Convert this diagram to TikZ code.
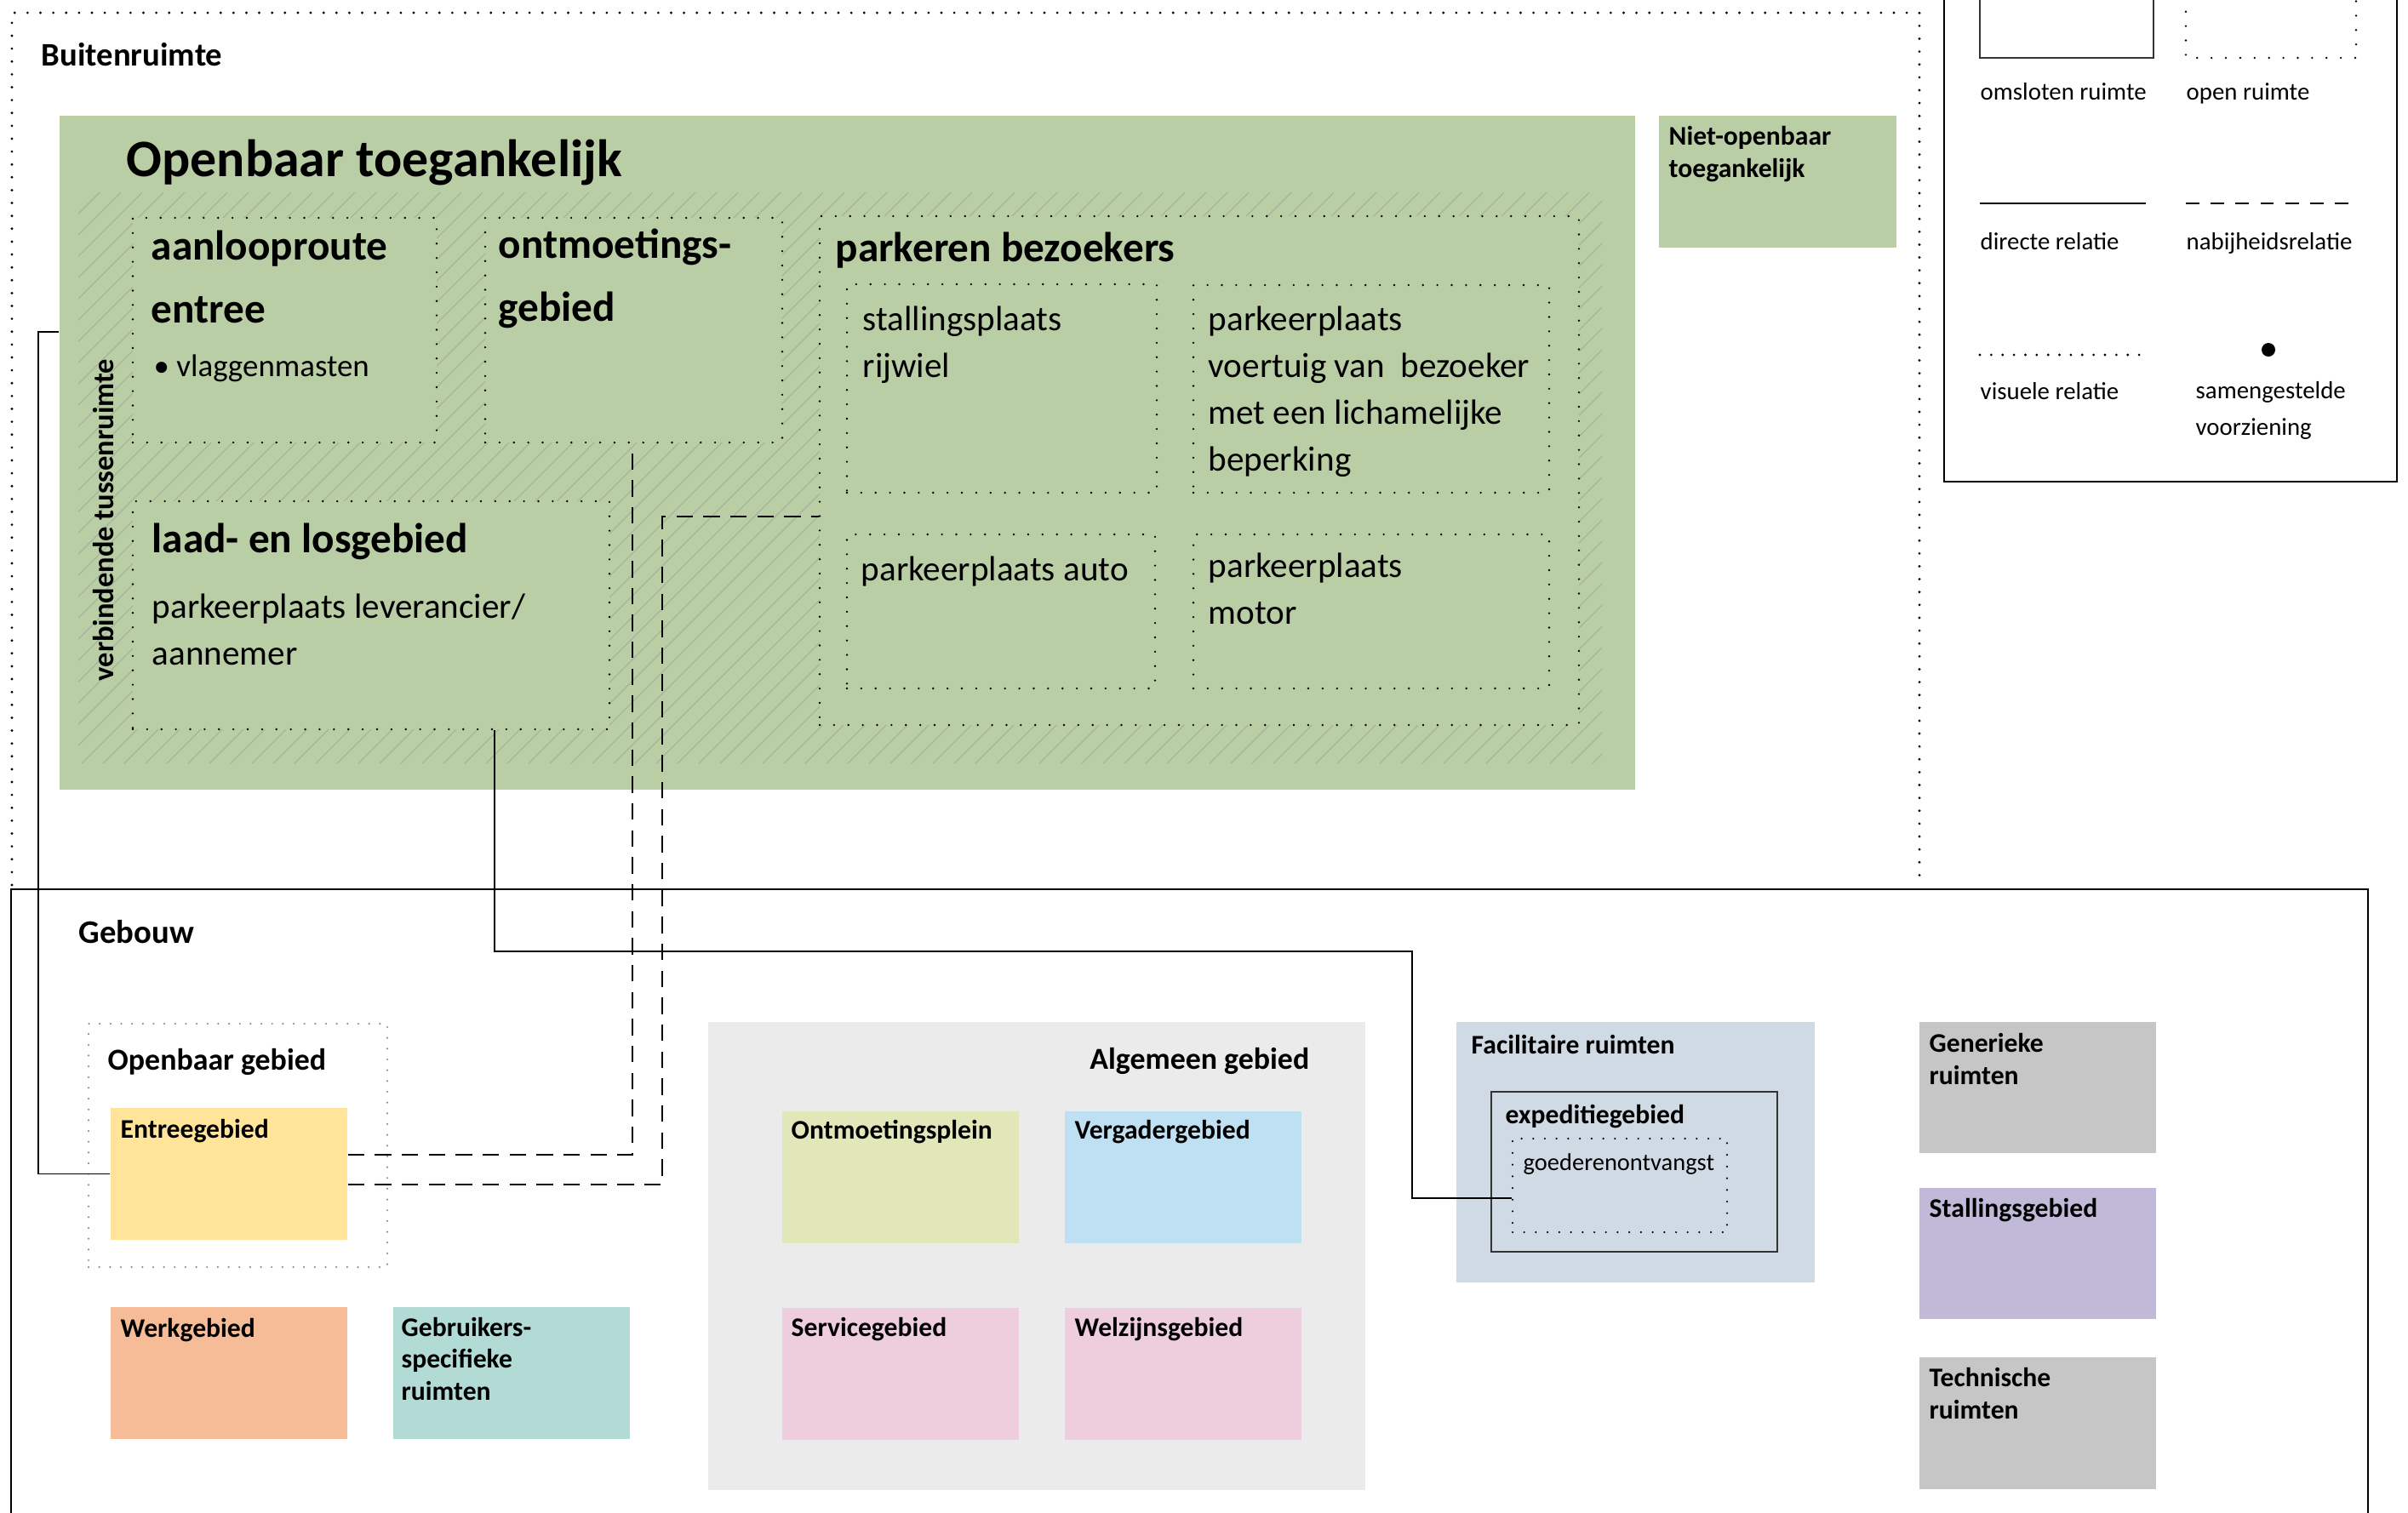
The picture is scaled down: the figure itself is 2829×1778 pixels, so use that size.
\documentclass[tikz,border=0pt]{standalone}
\usepackage{fontspec}
\setmainfont{Carlito}
\usetikzlibrary{fit,positioning}

\definecolor{groen}{RGB}{186,206,166}
\definecolor{arcering}{RGB}{163,177,152}
\definecolor{geel}{RGB}{255,228,153}
\definecolor{oranje}{RGB}{245,188,151}
\definecolor{mint}{RGB}{178,219,213}
\definecolor{lichtgrijs}{RGB}{235,235,235}
\definecolor{olijf}{RGB}{226,231,186}
\definecolor{hemel}{RGB}{191,223,242}
\definecolor{roze}{RGB}{238,206,220}
\definecolor{grijsblauw}{RGB}{208,218,228}
\definecolor{grijs}{RGB}{198,198,198}
\definecolor{paars}{RGB}{193,185,216}
\definecolor{stipgrijs}{RGB}{140,140,140}

\tikzset{
  vak/.style={inner sep=0pt, draw=none},
  openvak/.style={inner sep=0pt, draw, line width=0.75pt, line cap=round,
    dash pattern=on 0pt off 4.8pt},
  omsloten/.style={inner sep=0pt, draw=black!80, line width=0.4pt},
  rand/.style={line width=0.9pt, line cap=round, dash pattern=on 0pt off 4.3pt},
  directe/.style={line width=0.45pt},
  nabij/.style={line width=0.65pt, dash pattern=on 5.5pt off 3.5pt},
  arceerlijn/.style={draw=arcering, line width=0.3pt},
  txt/.style={inner sep=0pt, anchor=base west, align=left},
  kop/.style={txt, font=\bfseries\fontsize{9}{10.6}\selectfont},
  groot/.style={txt, font=\bfseries\fontsize{11}{13}\selectfont},
  middel/.style={txt, font=\bfseries\fontsize{10.2}{12}\selectfont},
  zwaar/.style={txt, font=\bfseries\fontsize{14}{20.8}\selectfont},
  licht/.style={txt, font=\fontsize{11.7}{15.6}\selectfont},
  klein/.style={txt, font=\fontsize{8.2}{12}\selectfont},
}

\begin{document}
\begin{tikzpicture}[x=0.01cm, y=-0.01cm]
  \useasboundingbox (0,0) rectangle (2829,1778);
  \clip (0,0) rectangle (2829,1778);

  % buitenruimte (base anchor = last line of a node)
  \draw[rand] (14,1040) -- (14,15) -- (2255,15) -- (2255,1040);
  \node[groot] (t-buiten) at (48,77) {Buitenruimte};

  \node[vak, fill=groen, fit={(70,136) (1921,928)}] (openbaar) {};
  \node[txt, font=\bfseries\fontsize{17.6}{20}\selectfont] (t-openbaar) at (148,207) {Openbaar toegankelijk};

  \begin{scope}
    \clip (92,226) rectangle (1882,897);
    \foreach \i in {0,...,100}
      \draw[arceerlijn] ({25*\i-579},897) -- ++(671,-671);
  \end{scope}

  \node[txt, rotate=90, anchor=center, font=\bfseries\fontsize{9.8}{12}\selectfont] (t-tussen) at (122,611) {verbindende tussenruimte};

  \node[openvak, fill=groen, fit={(156,256) (513,520)}] (aanl) {};
  \node[openvak, fill=groen, fit={(570,256) (919,520)}] (ontm) {};
  \node[openvak, fill=groen, fit={(156,589) (716,857)}] (laad) {};
  \node[openvak, fill=groen, fit={(963,254) (1855,852)}] (park) {};
  \node[openvak, fill=groen, fit={(995,334) (1359,579)}] (stal) {};
  \node[openvak, fill=groen, fit={(1402,335) (1820,579)}] (voer) {};
  \node[openvak, fill=groen, fit={(995,628) (1357,809)}] (auto) {};
  \node[openvak, fill=groen, fit={(1402,628) (1820,809)}] (moto) {};

  \node[zwaar] (t-aanl) at (177,379) {aanlooproute\\entree};
  \node[txt, font=\fontsize{10.5}{13}\selectfont] (t-vlag) at (180,442) {• vlaggenmasten};
  \node[zwaar] (t-ontm) at (585,377) {ontmoetings-\\gebied};
  \node[zwaar] (t-laad) at (178,649) {laad- en losgebied};
  \node[licht] (t-lever) at (178,781) {parkeerplaats leverancier/\\aannemer};
  \node[zwaar] (t-park) at (981,307) {parkeren bezoekers};
  \node[licht] (t-stal) at (1013,443) {stallingsplaats\\rijwiel};
  \node[licht] (t-voer) at (1419,553) {parkeerplaats\\voertuig van\ \ bezoeker\\met een lichamelijke\\beperking};
  \node[licht] (t-auto) at (1011,682) {parkeerplaats auto};
  \node[licht] (t-moto) at (1419,733) {parkeerplaats\\motor};

  \node[vak, fill=groen, fit={(1949,136) (2228,291)}] (nietopen) {};
  \node[kop] (t-nietopen) at (1960,208) {Niet-openbaar\\toegankelijk};

  % legenda
  \node[vak, draw, line width=0.8pt, fit={(2284,-20) (2816,566)}] (legenda) {};
  \draw[line width=0.4pt, draw=black!80] (2326,-20) rectangle (2530,68);
  \draw[line width=0.75pt, line cap=round, dash pattern=on 0pt off 4.8pt] (2568,-20) -- (2568,68) -- (2768,68) -- (2768,-20);
  \node[klein] (l-omsl) at (2326,117) {omsloten ruimte};
  \node[klein] (l-open) at (2568,117) {open ruimte};
  \draw[line width=0.75pt] (2326,239) -- (2521,239);
  \draw[line width=0.65pt, dash pattern=on 4.5pt off 3.8pt] (2568,239) -- (2764,239);
  \node[klein] (l-dir) at (2326,293) {directe relatie};
  \node[klein] (l-nab) at (2568,293) {nabijheidsrelatie};
  \draw[line width=0.9pt, line cap=round, dash pattern=on 0pt off 3.8pt] (2326,417) -- (2523,417);
  \fill (2665,411) circle (8);
  \node[klein] (l-vis) at (2326,469) {visuele relatie};
  \node[klein] (l-sam) at (2579,511) {samengestelde\\voorziening};

  % gebouw
  \draw[line width=0.75pt] (13,1800) -- (13,1045) -- (2782,1045) -- (2782,1800);
  \node[groot] (t-gebouw) at (92,1108) {Gebouw};

  \node[inner sep=0pt, draw=stipgrijs, line width=0.7pt, line cap=round, dash pattern=on 0pt off 3.6pt,
    fit={(104,1203) (455,1489)}] (opgeb) {};
  \node[middel] (t-opgeb) at (126,1257) {Openbaar gebied};
  \node[vak, fill=geel, fit={(130,1302) (408,1457)}] (entree) {};
  \node[kop] (t-entree) at (141,1337) {Entreegebied};
  \node[vak, fill=oranje, fit={(130,1536) (408,1691)}] (werk) {};
  \node[kop] (t-werk) at (141,1571) {Werkgebied};
  \node[vak, fill=mint, fit={(462,1536) (740,1691)}] (gebr) {};
  \node[kop] (t-gebr) at (471,1645) {Gebruikers-\\specifieke\\ruimten};

  \node[vak, fill=lichtgrijs, fit={(832,1201) (1604,1751)}] (alg) {};
  \node[middel, anchor=base east] (t-alg) at (1539,1256) {Algemeen gebied};
  \node[vak, fill=olijf, fit={(919,1306) (1197,1461)}] (ontpl) {};
  \node[kop] (t-ontpl) at (929,1338) {Ontmoetingsplein};
  \node[vak, fill=hemel, fit={(1251,1306) (1529,1461)}] (verg) {};
  \node[kop] (t-verg) at (1262,1338) {Vergadergebied};
  \node[vak, fill=roze, fit={(919,1537) (1197,1692)}] (serv) {};
  \node[kop] (t-serv) at (929,1570) {Servicegebied};
  \node[vak, fill=roze, fit={(1251,1537) (1529,1692)}] (welz) {};
  \node[kop] (t-welz) at (1262,1570) {Welzijnsgebied};

  \node[vak, fill=grijsblauw, fit={(1711,1201) (2132,1507)}] (fac) {};
  \node[kop] (t-fac) at (1728,1238) {Facilitaire ruimten};
  \node[omsloten, fit={(1752,1283) (2088,1471)}] (exp) {};
  \node[kop] (t-exp) at (1768,1320) {expeditiegebied};
  \node[openvak, line width=0.7pt, dash pattern=on 0pt off 3.9pt, fit={(1777,1338) (2029,1448)}] (goed) {};
  \node[txt, font=\fontsize{8.1}{10}\selectfont] (t-goed) at (1789,1375) {goederenontvangst};

  \node[vak, fill=grijs, fit={(2255,1201) (2533,1355)}] (gen) {};
  \node[kop] (t-gen) at (2266,1274) {Generieke\\ruimten};
  \node[vak, fill=paars, fit={(2255,1396) (2533,1550)}] (stalg) {};
  \node[kop] (t-stalg) at (2266,1430) {Stallingsgebied};
  \node[vak, fill=grijs, fit={(2255,1595) (2533,1750)}] (tech) {};
  \node[kop] (t-tech) at (2266,1667) {Technische\\ruimten};

  % relaties
  \draw[directe] (entree.west) -| (45,390) -- (openbaar.west |- 45,390);
  \draw[directe] (laad.south -| 581,0) |- (1659,1118) |- (goed.west |- 0,1408);
  \draw[nabij] (entree.east |- 0,1357) -| (ontm.south -| 743,0);
  \draw[nabij] (entree.east |- 0,1392) -| (778,607) -- (park.west |- 0,607);
\end{tikzpicture}
\end{document}
